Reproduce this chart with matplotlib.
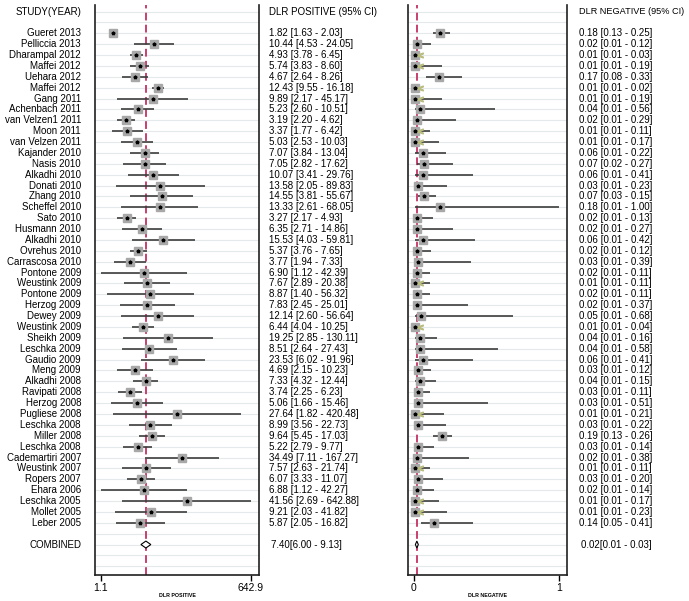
import numpy as np
import matplotlib
matplotlib.use("Agg")
import matplotlib.pyplot as plt
from matplotlib.patches import Polygon
from matplotlib.transforms import blended_transform_factory

plt.rcParams['font.family'] = ['Liberation Sans', 'DejaVu Sans']

studies = ["Gueret 2013", "Pelliccia 2013", "Dharampal 2012", "Maffei 2012", "Uehara 2012",
           "Maffei 2012", "Gang 2011", "Achenbach 2011", "van Velzen1 2011", "Moon 2011",
           "van Velzen 2011", "Kajander 2010", "Nasis 2010", "Alkadhi 2010", "Donati 2010",
           "Zhang 2010", "Scheffel 2010", "Sato 2010", "Husmann 2010", "Alkadhi 2010",
           "Ovrehus 2010", "Carrascosa 2010", "Pontone 2009", "Weustink 2009", "Pontone 2009",
           "Herzog 2009", "Dewey 2009", "Weustink 2009", "Sheikh 2009", "Leschka 2009",
           "Gaudio 2009", "Meng 2009", "Alkadhi 2008", "Ravipati 2008", "Herzog 2008",
           "Pugliese 2008", "Leschka 2008", "Miller 2008", "Leschka 2008", "Cademartiri 2007",
           "Weustink 2007", "Ropers 2007", "Ehara 2006", "Leschka 2005", "Mollet 2005",
           "Leber 2005"]

# DLR positive
pos_est = [1.82, 10.44, 4.93, 5.74, 4.67, 12.43, 9.89, 5.23, 3.19, 3.37, 5.03, 7.07, 7.05,
           10.07, 13.58, 14.55, 13.33, 3.27, 6.35, 15.53, 5.37, 3.77, 6.90, 7.67, 8.87, 7.83,
           12.14, 6.44, 19.25, 8.51, 23.53, 4.69, 7.33, 3.74, 5.06, 27.64, 8.99, 9.64, 5.22,
           34.49, 7.57, 6.07, 6.88, 41.56, 9.21, 5.87]
pos_lo = [1.63, 4.53, 3.78, 3.83, 2.64, 9.55, 2.17, 2.60, 2.20, 1.77, 2.53, 3.84, 2.82,
          3.41, 2.05, 3.81, 2.61, 2.17, 2.71, 4.03, 3.76, 1.94, 1.12, 2.89, 1.40, 2.45,
          2.60, 4.04, 2.85, 2.64, 6.02, 2.15, 4.32, 2.25, 1.66, 1.82, 3.56, 5.45, 2.79,
          7.11, 2.63, 3.33, 1.12, 2.69, 2.03, 2.05]
pos_hi = [2.03, 24.05, 6.45, 8.60, 8.26, 16.18, 45.17, 10.51, 4.62, 6.42, 10.03, 13.04, 17.62,
          29.76, 89.83, 55.67, 68.05, 4.93, 14.86, 59.81, 7.65, 7.33, 42.39, 20.38, 56.32, 25.01,
          56.64, 10.25, 130.11, 27.43, 91.96, 10.23, 12.44, 6.23, 15.46, 420.48, 22.73, 17.03, 9.77,
          167.27, 21.74, 11.07, 42.27, 642.88, 41.82, 16.82]

# DLR negative
neg_est = [0.18, 0.02, 0.01, 0.01, 0.17, 0.01, 0.01, 0.04, 0.02, 0.01, 0.01, 0.06, 0.07,
           0.06, 0.03, 0.07, 0.18, 0.02, 0.02, 0.06, 0.02, 0.03, 0.02, 0.01, 0.02, 0.02,
           0.05, 0.01, 0.04, 0.04, 0.06, 0.03, 0.04, 0.03, 0.03, 0.01, 0.03, 0.19, 0.03,
           0.02, 0.01, 0.03, 0.02, 0.01, 0.01, 0.14]
neg_lo = [0.13, 0.01, 0.01, 0.01, 0.08, 0.01, 0.01, 0.01, 0.01, 0.01, 0.01, 0.01, 0.02,
          0.01, 0.01, 0.03, 0.01, 0.01, 0.01, 0.01, 0.01, 0.01, 0.01, 0.01, 0.01, 0.01,
          0.01, 0.01, 0.01, 0.01, 0.01, 0.01, 0.01, 0.01, 0.01, 0.01, 0.01, 0.13, 0.01,
          0.01, 0.01, 0.01, 0.01, 0.01, 0.01, 0.05]
neg_hi = [0.25, 0.12, 0.03, 0.19, 0.33, 0.02, 0.19, 0.56, 0.29, 0.11, 0.17, 0.22, 0.27,
          0.41, 0.23, 0.15, 1.00, 0.13, 0.27, 0.42, 0.12, 0.39, 0.11, 0.11, 0.11, 0.37,
          0.68, 0.04, 0.16, 0.58, 0.41, 0.12, 0.15, 0.11, 0.51, 0.21, 0.22, 0.26, 0.14,
          0.38, 0.11, 0.20, 0.14, 0.17, 0.23, 0.41]

pos_comb = (7.40, 6.00, 9.13)
neg_comb = (0.02, 0.01, 0.03)

n = len(studies)
rows = np.arange(n)
comb_row = n + 1

fig = plt.figure(figsize=(6.89, 6.01), dpi=100)
ax1 = fig.add_axes([95 / 689, 1 - 575 / 601, 164 / 689, 570 / 601])
ax2 = fig.add_axes([408 / 689, 1 - 575 / 601, 159 / 689, 570 / 601])

line_col = '#3c3c3c'
sq_col = '#a8a8a8'
ref_col = '#c8406e'
grid_col = '#e4eaec'
fs = 7


def forest(ax, est, lo, hi, comb, xlim, ticks, ticklabels, xlabel, log=False):
    if log:
        ax.set_xscale('log')
    ax.set_xlim(*xlim)
    ax.set_ylim(49.8, -2.6)
    for r in range(-2, 50):
        ax.axhline(r, color=grid_col, lw=0.8, zorder=0)
    ax.axvline(comb[0], color=ref_col, lw=1.4, ls=(0, (4, 2.2)), zorder=1)
    ax.hlines(rows, lo, hi, color=line_col, lw=1.2, zorder=2)
    ax.plot(est, rows, 's', ms=5.5, color=sq_col, mec=sq_col, zorder=3)
    ax.plot(est, rows, '*', ms=2.6, color='black', zorder=4)
    c, clo, chi = comb
    h = 0.32
    ax.add_patch(Polygon([(clo, comb_row), (c, comb_row - h), (chi, comb_row), (c, comb_row + h)],
                         closed=True, fc='white', ec='black', lw=0.8, zorder=3))
    ax.spines['top'].set_visible(False)
    for s in ['left', 'right', 'bottom']:
        ax.spines[s].set_linewidth(1.2)
        ax.spines[s].set_color('#202020')
    ax.set_yticks([])
    ax.set_xticks(ticks)
    ax.set_xticklabels(ticklabels, fontsize=7.5)
    ax.minorticks_off()
    ax.tick_params(axis='x', length=4, width=1, pad=1.5)
    ax.set_xlabel(xlabel, fontsize=3.8, fontweight='bold', labelpad=0.5)


forest(ax1, pos_est, pos_lo, pos_hi, pos_comb, (0.853, 903), [1.1, 642.9], ['1.1', '642.9'],
       'DLR POSITIVE', log=True)
forest(ax2, neg_est, neg_lo, neg_hi, neg_comb, (-0.041, 1.054), [0, 1], ['0', '1'],
       'DLR NEGATIVE')

# small "<" marks where the lower limit is truncated at the estimate
trunc = [i for i in range(n) if neg_lo[i] == neg_est[i]]
ax2.plot([neg_est[i] + 0.035 for i in trunc], trunc, marker='$<$', ls='none', ms=4,
         color='#b9bd80', zorder=3)

t1 = blended_transform_factory(fig.transFigure, ax1.transData)
t2 = blended_transform_factory(fig.transFigure, ax2.transData)

ax1.text(81 / 689, -2, 'STUDY(YEAR)', transform=t1, ha='right', va='center', fontsize=fs)
ax1.text(269 / 689, -2, 'DLR POSITIVE (95% CI)', transform=t1, ha='left', va='center', fontsize=fs)
ax2.text(579 / 689, -2, 'DLR NEGATIVE (95% CI)', transform=t2, ha='left', va='center',
         fontsize=6.6)

for i in range(n):
    ax1.text(81 / 689, i, studies[i], transform=t1, ha='right', va='center', fontsize=fs)
    ax1.text(269 / 689, i, '%.2f [%.2f - %.2f]' % (pos_est[i], pos_lo[i], pos_hi[i]),
             transform=t1, ha='left', va='center', fontsize=fs)
    ax2.text(579 / 689, i, '%.2f [%.2f - %.2f]' % (neg_est[i], neg_lo[i], neg_hi[i]),
             transform=t2, ha='left', va='center', fontsize=fs)

ax1.text(81 / 689, comb_row, 'COMBINED', transform=t1, ha='right', va='center', fontsize=fs)
ax1.text(271 / 689, comb_row, '%.2f[%.2f - %.2f]' % pos_comb, transform=t1, ha='left',
         va='center', fontsize=fs)
ax2.text(581 / 689, comb_row, '%.2f[%.2f - %.2f]' % neg_comb, transform=t2, ha='left',
         va='center', fontsize=fs)

fig.savefig('out.png', dpi=100)
